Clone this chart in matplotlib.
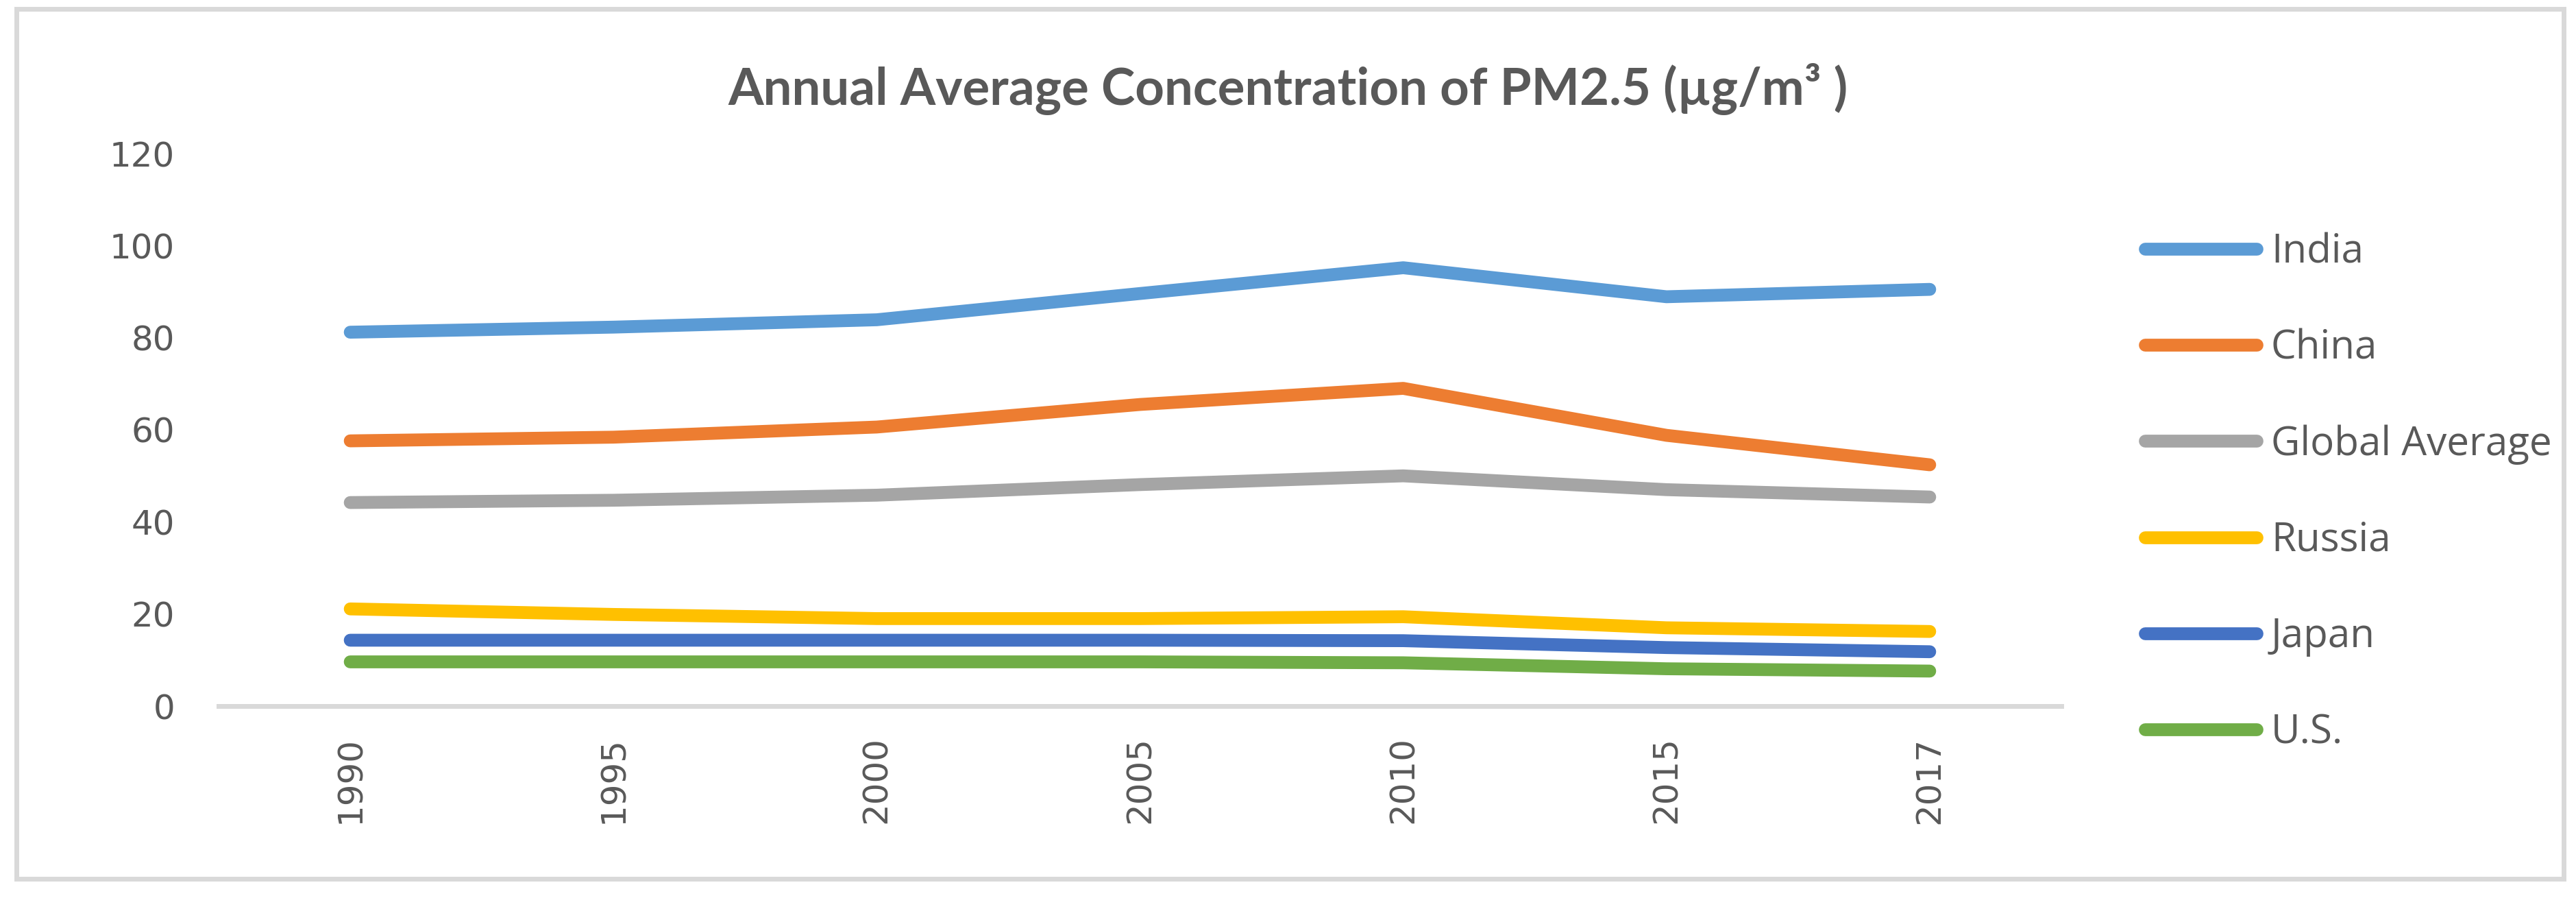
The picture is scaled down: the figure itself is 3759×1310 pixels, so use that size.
import matplotlib
matplotlib.use("Agg")
import matplotlib.pyplot as plt
from matplotlib.patches import Rectangle

years = ["1990", "1995", "2000", "2005", "2010", "2015", "2017"]
series_names = ["India", "China", "Global Average", "Russia", "Japan", "U.S."]
india = [81.2, 82.3, 83.9, 89.6, 95.2, 88.9, 90.5]
china = [57.6, 58.4, 60.6, 65.5, 69.0, 58.8, 52.4]
global_avg = [44.2, 44.7, 45.8, 48.1, 50.0, 47.0, 45.4]
russia = [21.1, 19.9, 19.0, 19.0, 19.4, 17.0, 16.2]
japan = [14.3, 14.3, 14.3, 14.3, 14.2, 12.7, 11.8]
us = [9.6, 9.6, 9.6, 9.6, 9.4, 8.1, 7.6]
y_ticks = [0, 20, 40, 60, 80, 100, 120]
colors = ["#5B9BD5", "#ED7D31", "#A5A5A5", "#FFC000", "#4472C4", "#70AD47"]
title = "Annual Average Concentration of PM2.5 (µg/m³ )"

W, H = 3759, 1310
DPI = 100
fig = plt.figure(figsize=(W / DPI, H / DPI), dpi=DPI)
fig.patch.set_facecolor("white")

ax = fig.add_axes([319 / W, (H - 1030) / H, (3008 - 319) / W, (1030 - 224) / H])
ax.set_facecolor("none")

text_color = "#595959"
x = list(range(len(years)))
for name, vals, c in zip(series_names, [india, china, global_avg, russia, japan, us], colors):
    ax.plot(x, vals, color=c, lw=13.5, solid_capstyle="round", solid_joinstyle="round", label=name)

ax.set_xlim(-0.5, len(years) - 0.5)
ax.set_ylim(0, 120)
ax.set_yticks(y_ticks)
ax.set_yticklabels([str(v) for v in y_ticks])
ax.set_xticks(x)
ax.set_xticklabels(years, rotation=90)
for s in ["top", "right", "left"]:
    ax.spines[s].set_visible(False)
ax.spines["bottom"].set_color("#D9D9D9")
ax.spines["bottom"].set_linewidth(5)
ax.spines["bottom"].set_zorder(0)
ax.tick_params(axis="both", length=0, colors=text_color, labelsize=36)
ax.tick_params(axis="y", pad=46)
ax.tick_params(axis="x", pad=32)
for lab in ax.get_xticklabels() + ax.get_yticklabels():
    lab.set_fontfamily("DejaVu Sans")
    lab.set_color(text_color)

fig.text(0.5, (H - 153) / H, title, ha="center", va="baseline", fontsize=53.6,
         fontweight="bold", color=text_color, family="Lato")

handles, labels = ax.get_legend_handles_labels()
leg = fig.legend(handles, labels, loc="upper left", bbox_to_anchor=(3130 / W, (H - 339) / H),
                 frameon=False, borderpad=0, borderaxespad=0, handlelength=2.8,
                 handletextpad=0.35, labelspacing=1.4,
                 prop={"family": "Open Sans", "size": 42})
for t in leg.get_texts():
    t.set_color(text_color)

fig.add_artist(Rectangle((23.5 / W, (H - 1281.5) / H), (3741 - 23.5) / W, (1281.5 - 12.5) / H,
                         transform=fig.transFigure, fill=False, edgecolor="#D9D9D9", lw=5))

fig.savefig("out.png", dpi=DPI)
